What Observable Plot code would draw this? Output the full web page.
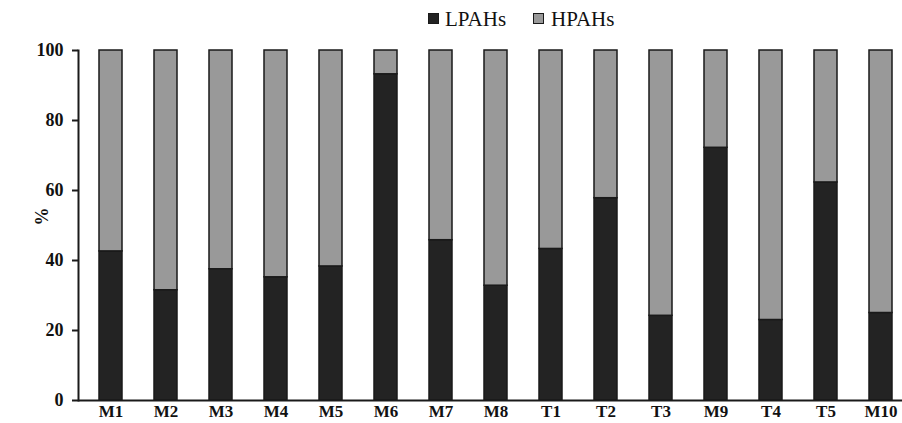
<!DOCTYPE html>
<html><head><meta charset="utf-8">
<script src="https://cdn.jsdelivr.net/npm/d3@7"></script>
<script src="https://cdn.jsdelivr.net/npm/@observablehq/plot@0.6"></script>
<style>
html,body{margin:0;padding:0;background:#fff;overflow:hidden;width:902px;height:423px}
#legend{height:36px;position:relative;font-family:"Liberation Serif","DejaVu Serif",serif;font-size:21px;color:#111}
.sw{position:absolute;top:13px;width:9px;height:9px;border:1.5px solid #1a1a1a}
.lt{position:absolute;top:9px;line-height:21px}
#chart svg{max-width:none !important;display:block}
</style></head>
<body>
<div id="legend"></div>
<div id="chart"></div>
<script>
const samples = ["M1","M2","M3","M4","M5","M6","M7","M8","T1","T2","T3","M9","T4","T5","M10"];
const lpahs = [42.6,31.5,37.5,35.2,38.3,93.2,45.8,32.8,43.3,57.8,24.2,72.2,23.0,62.3,25.0];
const hpahs = lpahs.map(v => 100 - v);
const seriesNames = ["LPAHs","HPAHs"];
const seriesColors = ["#232323","#999999"];
const yTicks = [0,20,40,60,80,100];

const rows = [];
samples.forEach((s,i) => {
  rows.push({sample:s, series:"LPAHs", value:lpahs[i]});
  rows.push({sample:s, series:"HPAHs", value:hpahs[i]});
});

const lg = document.getElementById("legend");
const legPos = [[428,445],[533,551]];
seriesNames.forEach((n,i)=>{
  const sw=document.createElement("div");sw.className="sw";sw.style.left=legPos[i][0]+"px";sw.style.background=seriesColors[i];lg.appendChild(sw);
  const t=document.createElement("div");t.className="lt";t.style.left=legPos[i][1]+"px";t.textContent=n;lg.appendChild(t);
});

const font = "'Liberation Serif','DejaVu Serif',serif";
const chart = Plot.plot({
  width: 913, height: 387,
  marginLeft: 78, marginRight: 0, marginTop: 14, marginBottom: 23,
  style: {fontFamily: font, fontSize: "18px", fontWeight: "bold", color:"#111", background:"#fff", overflow:"visible"},
  x: {domain: samples, paddingInner: 0.585, paddingOuter: 0.2925, label: null},
  y: {domain: [0,100], ticks: yTicks, label: null},
  color: {domain: seriesNames, range: seriesColors},
  marks: [
    Plot.barY(rows, Plot.stackY({order: seriesNames, x:"sample", y:"value", fill:"series", stroke:"#1a1a1a", strokeWidth:1.5})),
    Plot.ruleY([0], {stroke:"#1a1a1a", strokeWidth:2}),
    Plot.axisY({ticks: yTicks, tickSize:6, tickPadding:9, label:null, stroke:"#1a1a1a", strokeWidth:2, fontSize:18, fontWeight:"bold", fontFamily:font, tickFormat:d=>d}),
    Plot.axisX({tickSize:0, tickPadding:4, label:null, fontSize:17, fontWeight:"bold", fontFamily:font}),
    Plot.frame({anchor:"left", stroke:"#1a1a1a", strokeWidth:2}),
    Plot.text(["%"], {frameAnchor:"left", dx:-36, rotate:-90, fontSize:18, fontWeight:"bold", fontFamily:font})
  ]
});
document.getElementById("chart").appendChild(chart);
</script>
</body></html>
